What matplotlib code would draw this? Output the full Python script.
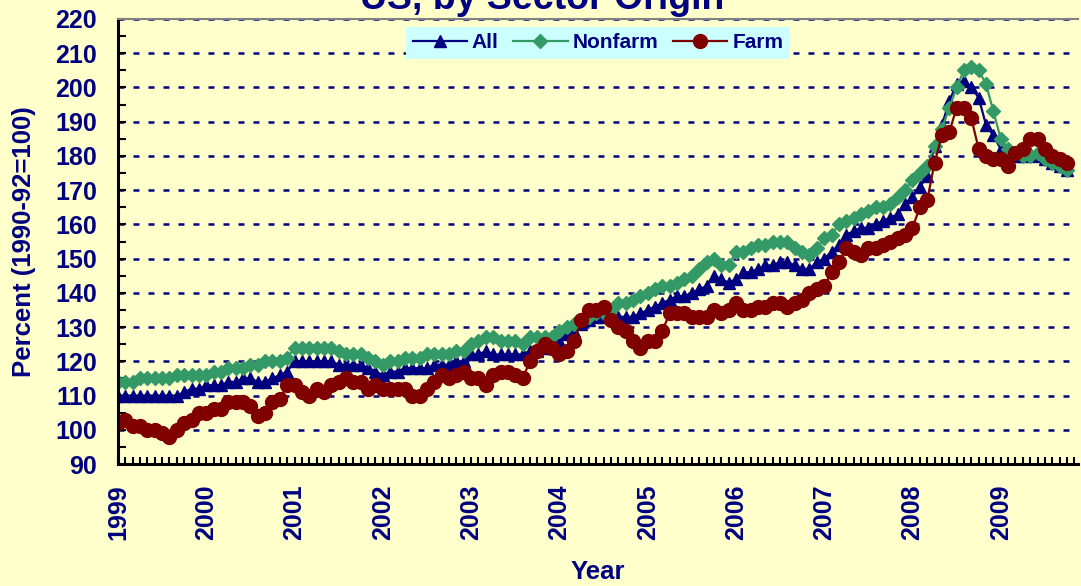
import numpy as np
import matplotlib
matplotlib.use("Agg")
import matplotlib.pyplot as plt
from matplotlib.ticker import MultipleLocator

# monthly index values, Jan 1999 .. Oct 2009 (1990-92=100)
all_sectors = [110, 110, 110, 110, 110, 110, 110, 110, 110, 111,
               112, 112, 113, 113, 113, 114, 114, 115, 115, 114,
               114, 115, 116, 117, 120, 120, 120, 120, 120, 120,
               119, 119, 119, 119, 118, 117, 116, 117, 117, 118,
               118, 118, 118, 119, 119, 119, 120, 120, 122, 122,
               123, 122, 122, 122, 122, 122, 123, 123, 124, 124,
               126, 128, 129, 131, 132, 133, 133, 133, 133, 133,
               133, 134, 135, 136, 137, 138, 139, 139, 140, 141,
               142, 145, 144, 143, 144, 146, 146, 147, 148, 148,
               149, 149, 148, 147, 147, 149, 150, 152, 154, 157,
               158, 159, 159, 160, 161, 162, 163, 166, 168, 171,
               174, 183, 189, 196, 201, 202, 200, 197, 189, 186,
               182, 181, 180, 180, 181, 180, 179, 178, 177, 176]

nonfarm = [114, 114, 114, 115, 115, 115, 115, 115, 116, 116,
           116, 116, 116, 117, 117, 118, 118, 118, 119, 119,
           120, 120, 120, 121, 124, 124, 124, 124, 124, 124,
           123, 122, 122, 122, 121, 120, 119, 120, 120, 121,
           121, 121, 122, 122, 122, 122, 123, 123, 125, 126,
           127, 127, 126, 126, 126, 125, 127, 127, 127, 127,
           129, 130, 131, 132, 133, 134, 134, 135, 137, 137,
           138, 139, 140, 141, 142, 142, 143, 144, 145, 147,
           149, 150, 148, 148, 152, 152, 153, 154, 154, 155,
           155, 155, 153, 152, 151, 153, 156, 157, 160, 161,
           162, 163, 164, 165, 165, 166, 168, 170, 173, 175,
           177, 183, 188, 194, 200, 205, 206, 205, 201, 193,
           185, 182, 181, 180, 180, 181, 179, 178, 177, 176]

farm = [102, 103, 101, 101, 100, 100, 99, 98, 100, 102,
        103, 105, 105, 106, 106, 108, 108, 108, 107, 104,
        105, 108, 109, 113, 113, 111, 110, 112, 111, 113,
        114, 115, 114, 114, 112, 113, 112, 112, 112, 112,
        110, 110, 112, 114, 116, 115, 116, 117, 115, 115,
        113, 116, 117, 117, 116, 115, 120, 123, 125, 124,
        122, 123, 126, 132, 135, 135, 136, 132, 130, 129,
        126, 124, 126, 126, 129, 134, 134, 134, 133, 133,
        133, 135, 134, 135, 137, 135, 135, 136, 136, 137,
        137, 136, 137, 138, 140, 141, 142, 146, 149, 153,
        152, 151, 153, 153, 154, 155, 156, 157, 159, 165,
        167, 178, 186, 187, 194, 194, 191, 182, 180, 179,
        179, 177, 181, 182, 185, 185, 182, 180, 179, 178]

years = ["1999", "2000", "2001", "2002", "2003", "2004",
         "2005", "2006", "2007", "2008", "2009"]

navy = "#000080"
bg = "#FFFFCC"
plt.rcParams["font.family"] = ["Liberation Sans", "DejaVu Sans"]
plt.rcParams["font.weight"] = "bold"
plt.rcParams["axes.labelweight"] = "bold"
plt.rcParams["lines.scale_dashes"] = False

fig = plt.figure(figsize=(10.81, 5.86), dpi=100, facecolor=bg)
ax = fig.add_axes([118 / 1081, 122 / 586, 960 / 1081, 445 / 586])
ax.set_facecolor(bg)

x = np.arange(len(all_sectors))
ax.plot(x, all_sectors, color=navy, lw=1.6, marker="^", ms=8.5, label="All")
ax.plot(x, nonfarm, color="#339966", lw=1.6, marker="D", ms=7, label="Nonfarm")
ax.plot(x, farm, color="#800000", lw=1.6, marker="o", ms=10, label="Farm")

ax.set_xlim(0, 130.5)
ax.set_ylim(90, 220)
ax.yaxis.set_major_locator(MultipleLocator(10))
ax.yaxis.set_minor_locator(MultipleLocator(5))
ax.set_xticks(np.arange(len(years)) * 12)
ax.set_xticklabels(years, rotation=90)
ax.xaxis.set_minor_locator(MultipleLocator(1))

ax.tick_params(axis="both", which="both", direction="in", color="black",
               width=1.5, labelcolor=navy, labelsize=18, pad=15)
ax.tick_params(axis="y", which="both", length=6)
ax.tick_params(axis="x", which="both", length=5)

ax.yaxis.grid(True, linestyle=(0, (4.3, 6.5)), color=navy, lw=1.8)
ax.set_axisbelow(True)

for s in ["left", "bottom"]:
    ax.spines[s].set_linewidth(2.2)
    ax.spines[s].set_color("black")
ax.spines["top"].set_color("#808080")
ax.spines["top"].set_linewidth(1.5)
ax.spines["right"].set_visible(False)

ax.set_ylabel("Percent (1990-92=100)", color=navy, fontsize=18.5,
              fontweight="bold")
ax.yaxis.set_label_coords(-0.085, 0.5)
ax.set_xlabel("Year", color=navy, fontsize=18.5, fontweight="bold",
              labelpad=14)

fig.text(0.502, 0.985, "US, by Sector Origin", color=navy, fontsize=27,
         fontweight="bold", ha="center", va="baseline")

leg = ax.legend(loc="upper center", bbox_to_anchor=(0.5, 1 - 8 / 445), ncol=3,
                frameon=True, fancybox=False, fontsize=15, handlelength=2.6,
                handletextpad=0.25, columnspacing=0.7, borderaxespad=0,
                borderpad=0.3)
leg.get_frame().set_facecolor("#CCFFFF")
leg.get_frame().set_edgecolor("none")
leg.get_frame().set_alpha(1)
for t in leg.get_texts():
    t.set_color(navy)

fig.savefig("out.png", dpi=100, facecolor=bg)
